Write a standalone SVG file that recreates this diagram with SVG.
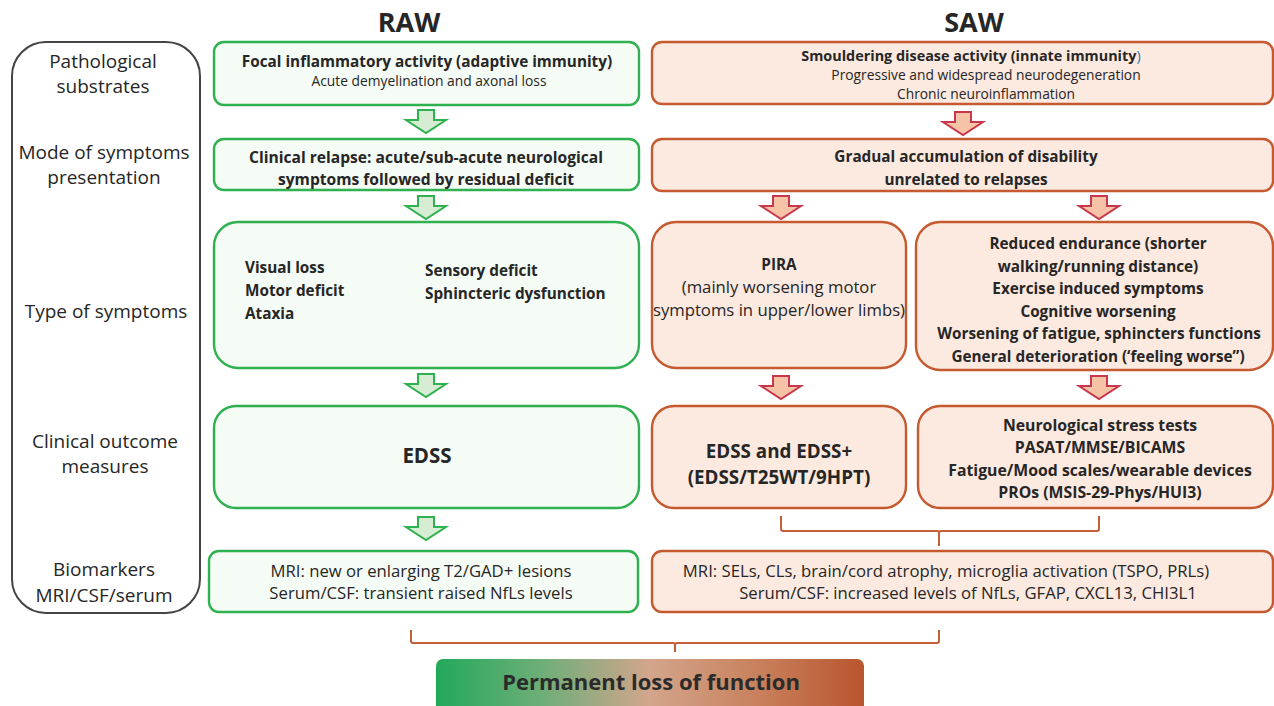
<svg xmlns="http://www.w3.org/2000/svg" width="1274" height="706" viewBox="0 0 1274 706">
<defs>
<linearGradient id="grad" x1="0" y1="0" x2="1" y2="0">
<stop offset="0" stop-color="#22a95a"/>
<stop offset="0.25" stop-color="#6fae78"/>
<stop offset="0.5" stop-color="#d3a58c"/>
<stop offset="0.75" stop-color="#c9815d"/>
<stop offset="1" stop-color="#b8552e"/>
</linearGradient>
<path id="arr" d="M-8,0 H8 V10 H20 L0,23 L-20,10 H-8 Z"/>
</defs>
<style>
text{font-family:"Open Sans","Liberation Sans",sans-serif;fill:#262626;text-anchor:middle}
.b{font-weight:bold;font-size:15.3px}
.r{font-size:16.7px}
.s{font-size:13.8px}
.side{font-size:19px}
.l{text-anchor:start}
.g{fill:#f5fbf5;stroke:#2fb150;stroke-width:2.4}
.o{fill:#fce9df;stroke:#c55a31;stroke-width:2.4}
.ga{fill:#d6ecd3;stroke:#2fb150;stroke-width:2}
.ra{fill:#f6c3a6;stroke:#c8384c;stroke-width:2}
.br{fill:none;stroke:#c2603a;stroke-width:2}
</style>
<text x="409" y="32" style="font-weight:bold;font-size:27px">RAW</text>
<text x="974" y="32" style="font-weight:bold;font-size:27px">SAW</text>

<g id="sidebar">
<rect x="12" y="42" width="188" height="571" rx="34" fill="#fff" stroke="#444" stroke-width="2"/>
<text class="side" x="103" y="68">Pathological</text>
<text class="side" x="103" y="93">substrates</text>
<text class="side" x="104" y="159">Mode of symptoms</text>
<text class="side" x="104" y="184">presentation</text>
<text class="side" x="106" y="318">Type of symptoms</text>
<text class="side" x="105" y="448">Clinical outcome</text>
<text class="side" x="105" y="473">measures</text>
<text class="side" x="104" y="576">Biomarkers</text>
<text class="side" x="104" y="602">MRI/CSF/serum</text>
</g>

<g id="raw1">
<rect class="g" x="214" y="42" width="425" height="63" rx="10"/>
<text class="b" x="427" y="67">Focal inflammatory activity (adaptive immunity)</text>
<text class="s" x="429" y="86">Acute demyelination and axonal loss</text>
</g>
<g id="saw1">
<rect class="o" x="652" y="42" width="621" height="62" rx="10"/>
<text class="b" x="971" y="61" style="font-size:14.4px">Smouldering disease activity (innate immunity<tspan style="font-weight:normal;fill:#2e75b6">)</tspan></text>
<text class="s" x="986" y="80">Progressive and widespread neurodegeneration</text>
<text class="s" x="986" y="99">Chronic neuroinflammation</text>
</g>

<g id="raw2">
<rect class="g" x="214" y="139" width="425" height="51" rx="10"/>
<text class="b" x="426" y="163" style="font-size:15.6px">Clinical relapse: acute/sub-acute neurological</text>
<text class="b" x="426" y="185" style="font-size:15.6px">symptoms followed by residual deficit</text>
</g>
<g id="saw2">
<rect class="o" x="652" y="139" width="621" height="52" rx="10"/>
<text class="b" x="966" y="162">Gradual accumulation of disability</text>
<text class="b" x="966" y="185">unrelated to relapses</text>
</g>

<g id="raw3">
<rect class="g" x="214" y="222" width="425" height="146" rx="24"/>
<text class="b l" x="245" y="273">Visual loss</text>
<text class="b l" x="245" y="296">Motor deficit</text>
<text class="b l" x="245" y="319">Ataxia</text>
<text class="b l" x="425" y="276">Sensory deficit</text>
<text class="b l" x="425" y="299">Sphincteric dysfunction</text>
</g>
<g id="pira">
<rect class="o" x="652" y="222" width="254" height="146" rx="24"/>
<text class="b" x="779" y="270">PIRA</text>
<text class="r" x="779" y="293">(mainly worsening motor</text>
<text class="r" x="779" y="316">symptoms in upper/lower limbs)</text>
</g>
<g id="sawsym">
<rect class="o" x="916" y="222" width="357" height="148" rx="24"/>
<text class="b" x="1098" y="249">Reduced endurance (shorter</text>
<text class="b" x="1098" y="272">walking/running distance)</text>
<text class="b" x="1098" y="294">Exercise induced symptoms</text>
<text class="b" x="1098" y="317">Cognitive worsening</text>
<text class="b" x="1099" y="339">Worsening of fatigue, sphincters functions</text>
<text class="b" x="1098" y="362">General deterioration (‘feeling worse”)</text>
</g>

<g id="raw4">
<rect class="g" x="214" y="406" width="425" height="102" rx="22"/>
<text x="427" y="463" style="font-weight:bold;font-size:20.5px">EDSS</text>
</g>
<g id="edssplus">
<rect class="o" x="652" y="406" width="254" height="102" rx="22"/>
<text x="779" y="458" style="font-weight:bold;font-size:18.8px">EDSS and EDSS+</text>
<text x="779" y="484" style="font-weight:bold;font-size:18.8px">(EDSS/T25WT/9HPT)</text>
</g>
<g id="stress">
<rect class="o" x="918" y="406" width="355" height="102" rx="22"/>
<text class="b" x="1100" y="431" style="font-size:15.8px">Neurological stress tests</text>
<text class="b" x="1100" y="453" style="font-size:15.8px">PASAT/MMSE/BICAMS</text>
<text class="b" x="1100" y="476" style="font-size:15.8px">Fatigue/Mood scales/wearable devices</text>
<text class="b" x="1100" y="498" style="font-size:15.8px">PROs (MSIS-29-Phys/HUI3)</text>
</g>

<g id="raw5">
<rect class="g" x="209" y="551" width="429" height="61" rx="10"/>
<text class="r" x="421" y="577">MRI: new or enlarging T2/GAD+ lesions</text>
<text class="r" x="421" y="599">Serum/CSF: transient raised NfLs levels</text>
</g>
<g id="saw5">
<rect class="o" x="652" y="551" width="621" height="61" rx="10"/>
<text class="r" x="946" y="577">MRI: SELs, CLs, brain/cord atrophy, microglia activation (TSPO, PRLs)</text>
<text class="r" x="968" y="599">Serum/CSF: increased levels of NfLs, GFAP, CXCL13, CHI3L1</text>
</g>

<g id="outcome">
<rect x="436" y="659" width="428" height="56" rx="7" fill="url(#grad)"/>
<text x="651" y="690" style="font-weight:bold;font-size:22px;fill:#2b2b2b">Permanent loss of function</text>
</g>

<g id="connectors">
<use href="#arr" class="ga" x="426" y="110"/>
<use href="#arr" class="ga" x="426" y="196"/>
<use href="#arr" class="ga" x="426" y="374"/>
<use href="#arr" class="ga" x="426" y="517"/>
<use href="#arr" class="ra" x="963" y="112"/>
<use href="#arr" class="ra" x="781" y="196"/>
<use href="#arr" class="ra" x="1099" y="196"/>
<use href="#arr" class="ra" x="781" y="376"/>
<use href="#arr" class="ra" x="1099" y="376"/>
<path class="br" d="M781,516 V529 Q781,531 783,531 H937 Q939,531 939,533 V546 M939,533 Q939,531 941,531 H1097 Q1099,531 1099,529 V516"/>
<path class="br" d="M411,630 V641 Q411,643 413,643 H673 Q675,643 675,645 V652 M675,645 Q675,643 677,643 H937 Q939,643 939,641 V630"/>
</g>
</svg>
